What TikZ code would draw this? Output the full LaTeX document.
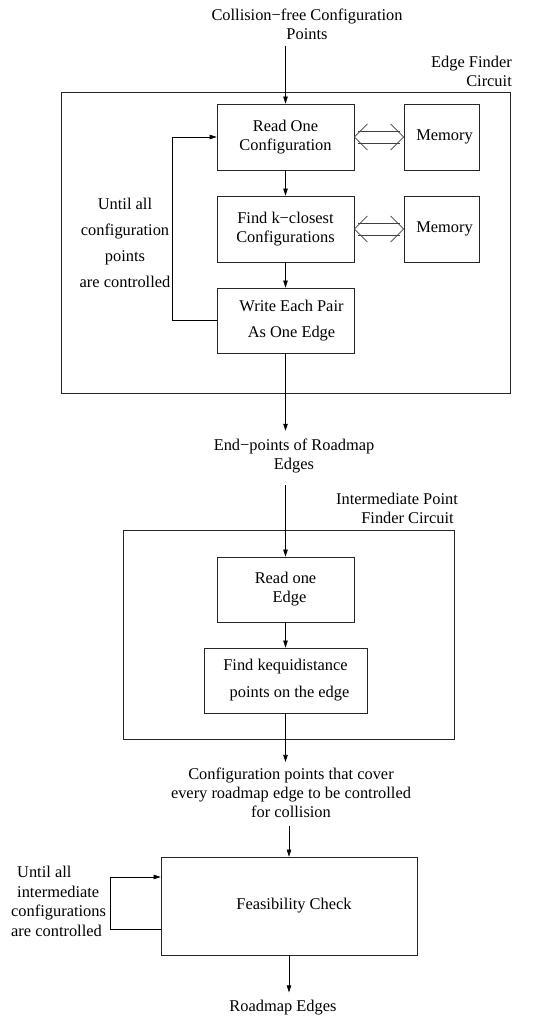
\documentclass[tikz,border=0pt]{standalone}
\usepackage{fontspec}
\setmainfont{Liberation Serif}
\usetikzlibrary{arrows.meta,calc}
\begin{document}
\begin{tikzpicture}[x=1pt,y=-1pt,
  font=\fontsize{16.4}{19}\selectfont,
  box/.style={draw=black!85, line width=0.8pt, inner sep=0pt, align=center},
  lbl/.style={inner sep=0pt, align=center},
  arr/.style={-{Triangle[length=7pt,width=4.5pt]}, line width=0.6pt},
  ln/.style={line width=0.6pt},
  dbl/.style={line width=0.8pt, draw=black!75}]
\useasboundingbox (0,0) rectangle (548,1022);

% titles and labels
\node[lbl] (title) at (307,24) {Collision−free Configuration\\Points};
\node[lbl, align=right, anchor=east] (efc) at (512,71) {Edge Finder\\Circuit};

% frame 1
\node[box, minimum width=449pt, minimum height=301pt] (frame1) at (285.5,242.5) {};
\node[box, minimum width=137pt, minimum height=66pt] (read) at (285.5,137) {Read One\\Configuration};
\node[box, minimum width=75pt, minimum height=66pt] (mem1) at (441.5,137) {\hspace*{6pt}Memory};
\node[box, minimum width=137pt, minimum height=66pt] (find) at (285.5,229) {Find k−closest\\Configurations};
\node[box, minimum width=75pt, minimum height=66pt] (mem2) at (441.5,229) {\hspace*{6pt}Memory};
\node[box, minimum width=137pt, minimum height=65pt, font=\fontsize{16.4}{26}\selectfont] (write) at (285.5,320.5) {\hspace*{12pt}Write Each Pair\\\hspace*{12pt}As One Edge};
\node[lbl, font=\fontsize{16.4}{26}\selectfont] (until1) at (125,242.5) {Until all\\configuration\\points\\are controlled};

% double arrows
\foreach \a/\b in {read/mem1,find/mem2}{
  \draw[dbl] ($(\a.east)+(4,-6)$) -- ($(\b.west)+(-4,-6)$);
  \draw[dbl] ($(\a.east)+(4,6)$) -- ($(\b.west)+(-4,6)$);
  \draw[dbl] ($(\a.east)+(13,-13)$) -- (\a.east) -- ($(\a.east)+(13,13)$);
  \draw[dbl] ($(\b.west)+(-13,-13)$) -- (\b.west) -- ($(\b.west)+(-13,13)$);
}

% connectors frame 1
\draw[arr] ($(read.north |- title.south)+(0,6)$) -- (read.north);
\draw[arr] (read.south) -- (find.north);
\draw[arr] (find.south) -- (write.north);
\draw[arr] (write.west) -- ++(-44,0) |- (read.west);

% end-points label
\node[lbl] (endp) at (294,456) {End−points of Roadmap\\Edges};
\draw[arr] (write.south) -- ($(write.south |- endp.north)+(0,-8)$);

% frame 2
\node[lbl, align=right, anchor=east] (ipf) at (458,508) {Intermediate Point\\\hspace*{0pt}Finder Circuit\hspace*{4pt}};
\node[box, minimum width=331pt, minimum height=209pt] (frame2) at (288.5,634.5) {};
\node[box, minimum width=137pt, minimum height=65pt] (redge) at (285.5,589.5) {Read one\\\hspace*{8pt}Edge};
\node[box, minimum width=163pt, minimum height=65pt, font=\fontsize{16.4}{27}\selectfont] (kequi) at (285.5,680.5) {Find kequidistance\\\hspace*{8pt}points on the edge};
\draw[arr] ($(endp.south -| redge.north)+(0,12)$) -- (redge.north);
\draw[arr] (redge.south) -- (kequi.north);

% config points label
\node[lbl] (cfg) at (291,793) {Configuration points that cover\\every roadmap edge to be controlled\\for collision};
\draw[arr] (kequi.south) -- ($(kequi.south |- cfg.north)+(0,-6)$);

% feasibility
\node[box, minimum width=256pt, minimum height=98pt] (feas) at (289,906) {\hspace*{10pt}Feasibility Check};
\draw[arr] ($(cfg.south -| feas.north)+(0,8)$) -- (feas.north);
\draw[arr] ($(feas.west)+(0,23)$) -- ++(-50,0) |- ($(feas.west)+(0,-29)$);
\node[lbl, align=left, anchor=west, font=\fontsize{16.4}{19.7}\selectfont] (until2) at (11,901.5) {\hspace*{6pt}Until all\\\hspace*{6pt}intermediate\\configurations\\are controlled};

% output
\node[lbl] (out) at (283,1008) {Roadmap Edges};
\draw[arr] (feas.south) -- ($(feas.south |- out.north)+(0,-8)$);
\end{tikzpicture}
\end{document}
